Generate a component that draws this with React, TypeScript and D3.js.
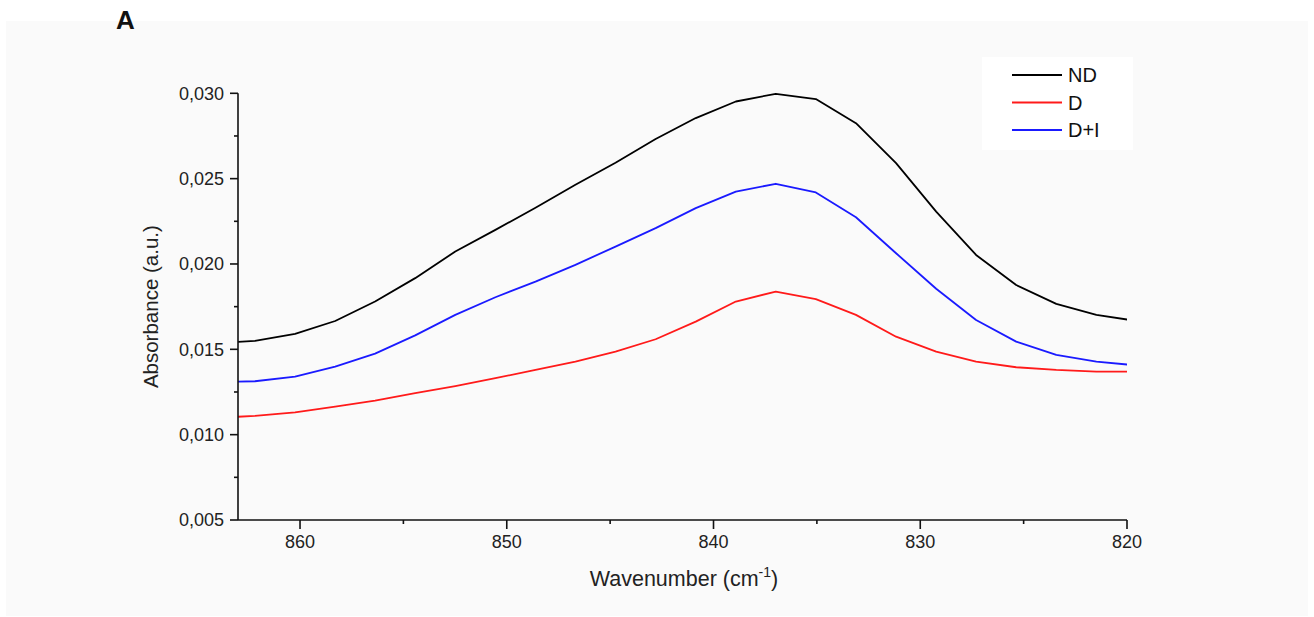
import React from "react";
import * as d3 from "d3";

const wavenumbers = [864.12, 862.18, 860.24, 858.3, 856.37, 854.43, 852.49, 850.55, 848.61, 846.68, 844.74, 842.8, 840.86, 838.92, 836.99, 835.05, 833.11, 831.17, 829.23, 827.3, 825.36, 823.42, 821.48, 819.54];
const ndValues = [0.01535, 0.01549, 0.0159, 0.01666, 0.0178, 0.01917, 0.02073, 0.022, 0.02329, 0.02464, 0.02593, 0.02732, 0.02855, 0.02952, 0.02997, 0.02966, 0.02825, 0.02591, 0.02307, 0.02053, 0.01877, 0.01766, 0.01702, 0.01666];
const dValues = [0.01098, 0.0111, 0.01131, 0.01164, 0.01199, 0.01243, 0.01285, 0.01331, 0.01379, 0.01428, 0.01487, 0.01559, 0.01662, 0.0178, 0.01838, 0.01794, 0.01702, 0.01574, 0.01487, 0.01428, 0.01395, 0.01379, 0.01369, 0.01369];
const diValues = [0.01309, 0.01313, 0.0134, 0.01399, 0.01475, 0.01582, 0.01702, 0.01805, 0.01897, 0.01995, 0.02102, 0.0221, 0.02327, 0.02424, 0.0247, 0.02419, 0.02274, 0.02063, 0.01855, 0.01672, 0.01545, 0.01467, 0.01428, 0.01406];

const seriesNames = ["ND", "D", "D+I"];
const seriesColors = ["#000000", "#ff1a1a", "#1a1aff"];
const seriesValues = [ndValues, dValues, diValues];

const xMajorTicks = [860, 850, 840, 830, 820];
const xMinorTicks = [855, 845, 835, 825];
const yMajorTicks = [0.005, 0.01, 0.015, 0.02, 0.025, 0.03];
const yMinorTicks = [0.0075, 0.0125, 0.0175, 0.0225, 0.0275];

const W = 1314;
const H = 617;
const FONT = "'Liberation Sans', Arial, sans-serif";

export default function App() {
  const x = d3.scaleLinear().domain([863, 820]).range([238, 1127]);
  const y = d3.scaleLinear().domain([0.005, 0.03]).range([520, 93.3]);
  const line = d3
    .line<number>()
    .x((_, i) => x(wavenumbers[i]))
    .y((v) => y(v))
    .curve(d3.curveLinear);
  const fmt = (v: number) => d3.format(".3f")(v).replace(".", ",");

  return (
    <svg
      width={W}
      height={H}
      style={{ position: "absolute", left: 0, top: 0, fontFamily: FONT }}
    >
      <rect x={0} y={0} width={W} height={H} fill="#ffffff" />
      <rect x={6} y={21} width={1302} height={595} fill="#fafafa" />
      <text x={116} y={29} fontSize={26} fontWeight="bold" fill="#111">A</text>
      <defs>
        <clipPath id="plotclip">
          <rect x={238} y={60} width={889} height={460} />
        </clipPath>
      </defs>
      <g clipPath="url(#plotclip)">
        {seriesValues.map((vals, i) => (
          <path
            key={seriesNames[i]}
            d={line(vals) || ""}
            fill="none"
            stroke={seriesColors[i]}
            strokeWidth={1.8}
            strokeLinejoin="round"
          />
        ))}
      </g>
      {/* axes */}
      <g stroke="#111" strokeWidth={1.6} fill="none">
        <line x1={238} x2={238} y1={y(0.03)} y2={520} />
        <line x1={238} x2={1127} y1={520} y2={520} />
        {yMajorTicks.map((t) => (
          <line key={"ym" + t} x1={230} x2={238} y1={y(t)} y2={y(t)} />
        ))}
        {yMinorTicks.map((t) => (
          <line key={"yn" + t} x1={234} x2={238} y1={y(t)} y2={y(t)} />
        ))}
        {xMajorTicks.map((t) => (
          <line key={"xm" + t} x1={x(t)} x2={x(t)} y1={520} y2={529} />
        ))}
        {xMinorTicks.map((t) => (
          <line key={"xn" + t} x1={x(t)} x2={x(t)} y1={520} y2={524} />
        ))}
      </g>
      <g fontSize={18} fill="#222">
        {yMajorTicks.map((t) => (
          <text key={"yl" + t} x={224} y={y(t)} dy="0.35em" textAnchor="end">
            {fmt(t)}
          </text>
        ))}
        {xMajorTicks.map((t) => (
          <text key={"xl" + t} x={x(t)} y={548} textAnchor="middle">
            {t}
          </text>
        ))}
      </g>
      <text x={684} y={586} fontSize={21.5} textAnchor="middle" fill="#222">
        Wavenumber (cm
        <tspan fontSize={14} dy={-9}>-1</tspan>
        <tspan dy={9}>)</tspan>
      </text>
      <text
        transform={`translate(158, ${(93.3 + 520) / 2}) rotate(-90)`}
        fontSize={20.5}
        textAnchor="middle"
        fill="#222"
      >
        Absorbance (a.u.)
      </text>
      {/* legend */}
      <rect x={982} y={57} width={151} height={93} fill="#ffffff" />
      {seriesNames.map((n, i) => (
        <g key={"lg" + n}>
          <line x1={1012} x2={1062} y1={75 + i * 27.5} y2={75 + i * 27.5} stroke={seriesColors[i]} strokeWidth={1.8} />
          <text x={1068} y={75 + i * 27.5} dy="0.36em" fontSize={20} fill="#111">
            {n}
          </text>
        </g>
      ))}
    </svg>
  );
}
